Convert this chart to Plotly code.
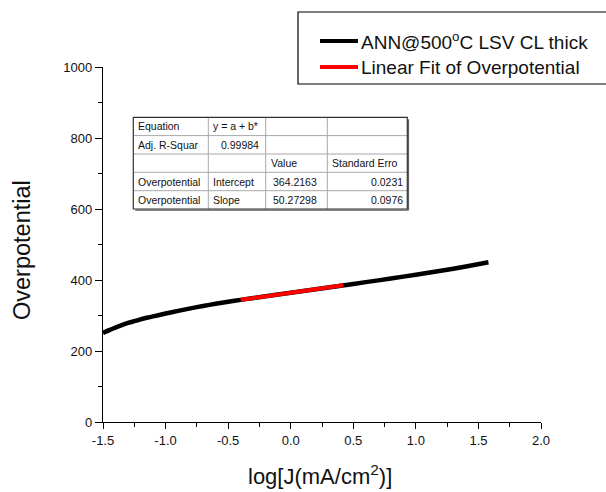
import plotly.graph_objects as go

# ---- data ----
curve_x = [-1.50, -1.45, -1.40, -1.35, -1.30, -1.25, -1.20, -1.15, -1.10, -1.00, -0.90,
           -0.80, -0.70, -0.60, -0.50, -0.40, -0.20, 0.00, 0.20, 0.40, 0.60,
           0.80, 1.00, 1.20, 1.40, 1.58]
curve_y = [251, 259, 266, 273, 279, 284, 289, 293.5, 297.5, 305.5, 313,
           320, 327, 333, 339, 344, 354, 364, 374, 384, 394,
           404, 415, 426, 438, 450]
fit_x = [-0.40, 0.42]
fit_y = [344.1, 385.3]

series_names = ["ANN@500<sup>o</sup>C LSV CL thick", "Linear Fit of Overpotential"]
series_colors = ["black", "#ff0000"]

x_tick_vals = [-1.5, -1.0, -0.5, 0.0, 0.5, 1.0, 1.5, 2.0]
x_tick_text = ["-1.5", "-1.0", "-0.5", "0.0", "0.5", "1.0", "1.5", "2.0"]
y_tick_vals = [0, 200, 400, 600, 800, 1000]
y_tick_text = ["0", "200", "400", "600", "800", "1000"]

table_rows = [
    ["Equation", "y = a + b*", "", ""],
    ["Adj. R-Squar", "0.99984", "", ""],
    ["", "", "Value", "Standard Erro"],
    ["Overpotential", "Intercept", "364.2163", "0.0231"],
    ["Overpotential", "Slope", "50.27298", "0.0976"],
]

x_title = "log[J(mA/cm<sup>2</sup>)]"
y_title = "Overpotential"

# ---- figure ----
W, H = 606, 492
L, R, T, B = 103, 65, 67, 70
PW = W - L - R
PH = H - T - B


def px(x):
    return (x - L) / PW


def py(y):
    return (H - B - y) / PH


FONT = "Arial, Liberation Sans, sans-serif"

fig = go.Figure()
fig.add_trace(go.Scatter(x=curve_x, y=curve_y, mode="lines", name=series_names[0],
                         line=dict(color=series_colors[0], width=4.5, shape="spline", smoothing=0.6),
                         showlegend=False))
fig.add_trace(go.Scatter(x=fit_x, y=fit_y, mode="lines", name=series_names[1],
                         line=dict(color=series_colors[1], width=4), showlegend=False))

shapes = []
annotations = []

# ---- table drawn with shapes + annotations ----
col_edges = [133.3, 208.3, 265.7, 327.3, 407.3]
row_edges = [117.3, 135.6, 154.0, 172.3, 190.7, 209.0]
for c in col_edges[1:-1]:
    shapes.append(dict(type="line", xref="paper", yref="paper",
                       x0=px(c), x1=px(c), y0=py(row_edges[0]), y1=py(row_edges[-1]),
                       line=dict(color="#a8a8a8", width=1)))
for r in row_edges[1:-1]:
    shapes.append(dict(type="line", xref="paper", yref="paper",
                       x0=px(col_edges[0]), x1=px(col_edges[-1]), y0=py(r), y1=py(r),
                       line=dict(color="#a8a8a8", width=1)))
# drop shadow on right / bottom
shapes.append(dict(type="line", xref="paper", yref="paper",
                   x0=px(col_edges[-1] + 1.2), x1=px(col_edges[-1] + 1.2),
                   y0=py(row_edges[0] + 2), y1=py(row_edges[-1] + 1.2),
                   line=dict(color="#606060", width=1.2)))
shapes.append(dict(type="line", xref="paper", yref="paper",
                   x0=px(col_edges[0] + 2), x1=px(col_edges[-1] + 1.2),
                   y0=py(row_edges[-1] + 1.2), y1=py(row_edges[-1] + 1.2),
                   line=dict(color="#606060", width=1.2)))
shapes.append(dict(type="rect", xref="paper", yref="paper",
                   x0=px(col_edges[0]), x1=px(col_edges[-1]),
                   y0=py(row_edges[-1]), y1=py(row_edges[0]),
                   line=dict(color="#303030", width=1.2)))

for i, row in enumerate(table_rows):
    yc = (row_edges[i] + row_edges[i + 1]) / 2
    for j, txt in enumerate(row):
        if not txt:
            continue
        al = "left"
        if j == 3 and i >= 3:
            al = "right"
        if i == 1 and j == 1:
            al = "right"
        if al == "left":
            xx = col_edges[j] + (5 if (j == 2 and i >= 3) else 3)
        else:
            xx = col_edges[j + 1] - (5 if j == 1 else 2.5)
        annotations.append(dict(xref="paper", yref="paper", x=px(xx), y=py(yc),
                                text=txt, showarrow=False, xanchor=al, yanchor="middle",
                                font=dict(family=FONT, size=10.5, color="#111")))

# ---- legend drawn as a framed key ----
leg_box = (298, 12, 640, 84)
leg_rows_y = [41, 67]
shapes.append(dict(type="rect", xref="paper", yref="paper",
                   x0=px(leg_box[0]), x1=px(leg_box[2]),
                   y0=py(leg_box[3]), y1=py(leg_box[1]),
                   line=dict(color="black", width=1.2), fillcolor="white", layer="below"))
for k, name in enumerate(series_names):
    yy = leg_rows_y[k]
    shapes.append(dict(type="line", xref="paper", yref="paper",
                       x0=px(320), x1=px(358), y0=py(yy), y1=py(yy),
                       line=dict(color=series_colors[k], width=4)))
    annotations.append(dict(xref="paper", yref="paper", x=px(359), y=py(yy),
                            text=name, showarrow=False, xanchor="left", yanchor="middle",
                            font=dict(family=FONT, size=19, color="#111")))

# ---- axis titles ----
annotations.append(dict(xref="paper", yref="paper", x=px(320), y=py(475),
                        text=x_title, showarrow=False, xanchor="center", yanchor="middle",
                        font=dict(family=FONT, size=22, color="#111")))
annotations.append(dict(xref="paper", yref="paper", x=px(22), y=py(250),
                        text=y_title, showarrow=False, xanchor="center", yanchor="middle",
                        textangle=-90, font=dict(family=FONT, size=23.5, color="#111")))

fig.update_layout(
    width=W, height=H, autosize=False,
    margin=dict(l=L, r=R, t=T, b=B, autoexpand=False),
    paper_bgcolor="white", plot_bgcolor="white",
    font=dict(family=FONT, color="#111"),
    shapes=shapes, annotations=annotations,
    showlegend=False,
)
fig.update_xaxes(range=[-1.5, 2.0], tickvals=x_tick_vals, ticktext=x_tick_text,
                 automargin=False,
                 showline=True, linecolor="black", linewidth=1.3,
                 ticks="outside", ticklen=6, tickwidth=1.3, tickcolor="black",
                 minor=dict(ticks="outside", ticklen=4, dtick=0.25, tick0=-1.5,
                            tickcolor="black", tickwidth=1.3),
                 showgrid=False, zeroline=False,
                 tickfont=dict(size=13, family=FONT, color="#111"))
fig.update_yaxes(range=[0, 1000], tickvals=y_tick_vals, ticktext=y_tick_text,
                 automargin=False,
                 showline=True, linecolor="black", linewidth=1.3,
                 ticks="outside", ticklen=7, tickwidth=1.3, tickcolor="black",
                 minor=dict(ticks="outside", ticklen=4, dtick=100, tickcolor="black", tickwidth=1.3),
                 showgrid=False, zeroline=False,
                 tickfont=dict(size=13, family=FONT, color="#111"))

fig.write_html("out.html")
